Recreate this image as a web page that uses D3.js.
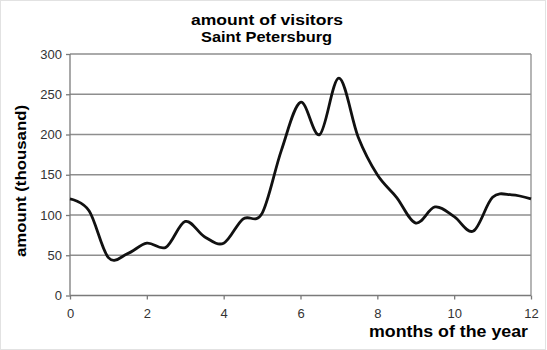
<!DOCTYPE html>
<html>
<head>
<meta charset="utf-8">
<script src="https://cdn.jsdelivr.net/npm/d3@7"></script>
<style>
  body { margin: 0; background: #fff; }
  svg { display: block; font-family: "Liberation Sans", Arial, sans-serif; }
</style>
</head>
<body>
<svg id="chart" width="547" height="350"></svg>
<script>
// months of the year (half-month steps) and visitors in thousands
const months = [0, 0.5, 1, 1.5, 2, 2.5, 3, 3.5, 4, 4.5, 5, 5.5, 6, 6.5, 7, 7.5, 8, 8.5, 9, 9.5, 10, 10.5, 11, 11.5, 12];
const visitors = [120, 105, 47, 52, 65, 60, 92, 73, 65, 95, 102, 180, 240, 200, 270, 197, 150, 122, 90, 110, 98, 80, 122, 125, 120];
const xTicks = [0, 2, 4, 6, 8, 10, 12];
const yTicks = [0, 50, 100, 150, 200, 250, 300];

const width = 547;
const height = 350;
const plot = { left: 70, right: 531, top: 54, bottom: 295.5 };

const svg = d3.select('#chart');

// light outer frame
svg.append('rect')
  .attr('x', 0.5).attr('y', 0.5)
  .attr('width', width - 2).attr('height', height - 1)
  .attr('fill', '#fff')
  .attr('stroke', '#e2e2e2');

const x = d3.scaleLinear().domain([0, 12]).range([plot.left, plot.right]);
const y = d3.scaleLinear().domain([0, 300]).range([plot.bottom, plot.top]);

// horizontal gridlines
svg.append('g')
  .selectAll('line')
  .data(yTicks.filter(d => d > 0))
  .enter().append('line')
  .attr('x1', plot.left).attr('x2', plot.right)
  .attr('y1', d => y(d)).attr('y2', d => y(d))
  .attr('stroke', '#8e8e8e')
  .attr('stroke-width', 1.3);

// right border of plot area
svg.append('line')
  .attr('x1', plot.right).attr('x2', plot.right)
  .attr('y1', plot.top).attr('y2', plot.bottom)
  .attr('stroke', '#8e8e8e')
  .attr('stroke-width', 1.3);

// axes
const yAxis = svg.append('g')
  .attr('transform', `translate(${plot.left},0)`)
  .call(d3.axisLeft(y).tickValues(yTicks).tickSize(4).tickPadding(4));
const xAxis = svg.append('g')
  .attr('transform', `translate(0,${plot.bottom})`)
  .call(d3.axisBottom(x).tickValues(xTicks).tickSize(4).tickPadding(9));

[xAxis, yAxis].forEach(g => {
  g.selectAll('path, line').attr('stroke', '#7a7a7a').attr('stroke-width', 1.3);
  g.selectAll('text')
    .attr('fill', '#333')
    .style('font-size', '13px')
    .style('font-family', '"Liberation Sans", Arial, sans-serif');
});
yAxis.select('.domain').attr('d', `M0,${plot.bottom}V${plot.top}`);
xAxis.select('.domain').attr('d', `M${plot.left},0H${plot.right}`);

// the smoothed visitor line
const line = d3.line()
  .x((d, i) => x(months[i]))
  .y(d => y(d))
  .curve(d3.curveCardinal.tension(0));

svg.append('path')
  .datum(visitors)
  .attr('fill', 'none')
  .attr('stroke', '#111')
  .attr('stroke-width', 2.8)
  .attr('stroke-linejoin', 'round')
  .attr('d', line);

// titles and axis labels
svg.append('text')
  .attr('x', 267).attr('y', 25)
  .attr('text-anchor', 'middle')
  .attr('textLength', 152).attr('lengthAdjust', 'spacingAndGlyphs')
  .style('font-size', '15px').style('font-weight', 'bold')
  .text('amount of visitors');
svg.append('text')
  .attr('x', 266.5).attr('y', 42)
  .attr('text-anchor', 'middle')
  .attr('textLength', 131).attr('lengthAdjust', 'spacingAndGlyphs')
  .style('font-size', '15px').style('font-weight', 'bold')
  .text('Saint Petersburg');

svg.append('text')
  .attr('transform', 'translate(26,181) rotate(-90)')
  .attr('text-anchor', 'middle')
  .attr('textLength', 152).attr('lengthAdjust', 'spacingAndGlyphs')
  .style('font-size', '15px').style('font-weight', 'bold')
  .text('amount (thousand)');

svg.append('text')
  .attr('x', 528).attr('y', 337)
  .attr('text-anchor', 'end')
  .attr('textLength', 159).attr('lengthAdjust', 'spacingAndGlyphs')
  .style('font-size', '16px').style('font-weight', 'bold')
  .text('months of the year');
</script>
</body>
</html>
